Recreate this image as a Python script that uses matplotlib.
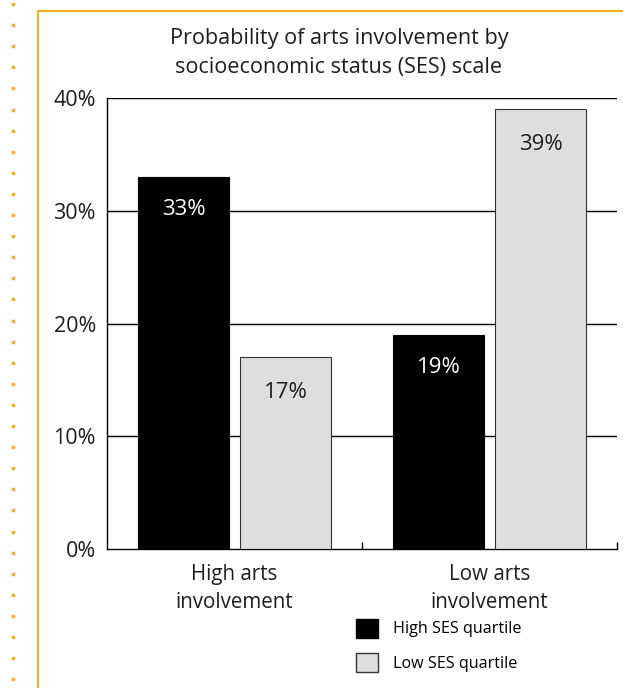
import numpy as np
import matplotlib
matplotlib.use("Agg")
import matplotlib.pyplot as plt
from matplotlib.lines import Line2D
from matplotlib.patches import Patch

plt.rcParams['font.family'] = ['Open Sans', 'DejaVu Sans']

categories = ['High arts\ninvolvement', 'Low arts\ninvolvement']
high_ses = [33, 19]
low_ses = [17, 39]
series_names = ['High SES quartile', 'Low SES quartile']
yticks = [0, 10, 20, 30, 40]

orange = '#fbad25'
txt = '#1e1e1e'

fig = plt.figure(figsize=(6.23, 6.88), dpi=100)
W, H = 623, 688

# orange frame + dotted margin line
fig.add_artist(Line2D([38 / W, 38 / W], [0, 1 - 11 / H], color=orange, lw=1.6))
fig.add_artist(Line2D([38 / W, 1], [1 - 11 / H, 1 - 11 / H], color=orange, lw=1.6))
dot_y = np.arange(4, H, 21.1)
fig.add_artist(Line2D(np.full(len(dot_y), 13 / W), 1 - dot_y / H, color=orange,
                      lw=0, marker='o', markersize=2.8, markeredgewidth=0))

ax = fig.add_axes([107 / W, 1 - 549 / H, 510 / W, 451 / H])

x = np.arange(len(categories))
w = 0.36
b1 = ax.bar(x - 0.2, high_ses, w, color='black', edgecolor='black', lw=0.8, zorder=3)
b2 = ax.bar(x + 0.2, low_ses, w, color='#dedede', edgecolor='#333333', lw=0.8, zorder=3)

# value labels inside the bars
for rect, v in zip(b1, high_ses):
    ax.text(rect.get_x() + rect.get_width() / 2, v - 2.9, f'{v}%', ha='center', va='center',
            color='white', fontsize=16)
for rect, v in zip(b2, low_ses):
    ax.text(rect.get_x() + rect.get_width() / 2, v - 3.1, f'{v}%', ha='center', va='center',
            color=txt, fontsize=16)

ax.set_xlim(-0.5, 1.5)
ax.set_ylim(0, 40)
ax.set_yticks(yticks)
ax.set_yticklabels([f'{t}%' for t in yticks], fontsize=15.5, color=txt)
ax.tick_params(axis='y', length=0, pad=8)
for t in yticks[1:]:
    ax.axhline(t, color='black', lw=1.0, zorder=1)

ax.set_xticks([0.5, 1.5])
ax.set_xticklabels([])
ax.tick_params(axis='x', direction='in', length=5, width=1.0)
for xi, lab in zip(x, categories):
    ax.text(xi, -1.35, lab, ha='center', va='top', fontsize=14.8, color=txt,
            linespacing=1.4)

for s in ['top', 'right']:
    ax.spines[s].set_visible(False)
for s in ['left', 'bottom']:
    ax.spines[s].set_linewidth(1.0)
    ax.spines[s].set_color('black')

fig.text(339 / W, 1 - 53 / H, 'Probability of arts involvement by\nsocioeconomic status (SES) scale',
         ha='center', va='center', fontsize=15.6, color=txt, linespacing=1.48)

handles = [Patch(facecolor='black', edgecolor='black'),
           Patch(facecolor='#dedede', edgecolor='#333333')]
fig.legend(handles, series_names, loc='upper left', bbox_to_anchor=(341 / W, 1 - 604 / H),
           frameon=False, fontsize=11.6, handlelength=1.42, handleheight=1.45,
           labelspacing=0.95, handletextpad=0.9)

fig.savefig('out.png', dpi=100)
